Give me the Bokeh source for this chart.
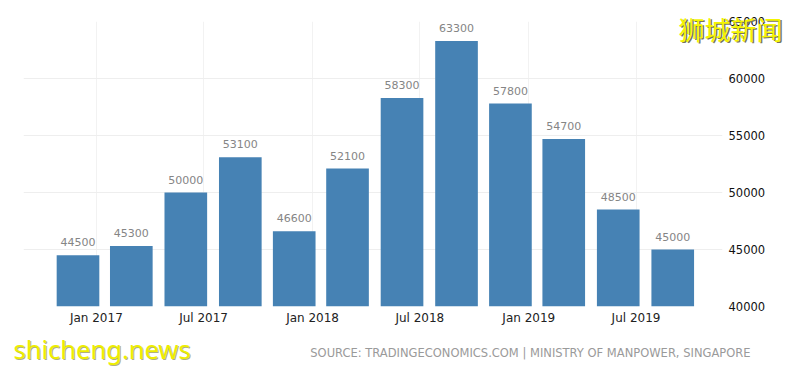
from datetime import datetime
from bokeh.plotting import figure
from bokeh.models import ColumnDataSource, Range1d, FixedTicker, DatetimeTickFormatter, Title
from bokeh.embed import file_html
from bokeh.resources import INLINE

# ---- data ----
periods = ["2016-12-01", "2017-03-01", "2017-06-01", "2017-09-01",
           "2017-12-01", "2018-03-01", "2018-06-01", "2018-09-01",
           "2018-12-01", "2019-03-01", "2019-06-01", "2019-09-01"]
vacancies = [44500, 45300, 50000, 53100, 46600, 52100, 58300, 63300,
             57800, 54700, 48500, 45000]
x_tick_dates = ["2017-01-01", "2017-07-01", "2018-01-01",
                "2018-07-01", "2019-01-01", "2019-07-01"]
y_ticks = [40000, 45000, 50000, 55000, 60000, 65000]
source_text = "SOURCE: TRADINGECONOMICS.COM | MINISTRY OF MANPOWER, SINGAPORE"
watermark_cn = "狮城新闻"
watermark_en = "shicheng.news"

dates = [datetime.strptime(d, "%Y-%m-%d") for d in periods]
src = ColumnDataSource(dict(
    x=dates,
    top=vacancies,
    label=[str(v) for v in vacancies],
))

def ms(d):
    return (datetime.strptime(d, "%Y-%m-%d") - datetime(1970, 1, 1)).total_seconds() * 1000

W, H = 798, 370
p = figure(width=W, height=H, x_axis_type="datetime", y_axis_location="right",
           output_backend="svg", toolbar_location=None,
           x_range=Range1d(datetime(2016, 8, 31), datetime(2019, 11, 24)),
           y_range=Range1d(40000, 65000),
           min_border_left=23, min_border_right=W - 722, min_border_top=21,
           min_border_bottom=H - 306)
p.outline_line_color = None
p.background_fill_color = "white"
p.border_fill_color = "white"

DAY = 86400000
p.vbar(x="x", top="top", bottom=40000, width=72 * DAY, source=src,
       fill_color="#4682b4", line_color=None)
p.text(x="x", y="top", text="label", source=src, text_align="center",
       text_baseline="alphabetic", y_offset=-13, text_color="#858585",
       text_font_size="11px", text_font={"value": "DejaVu Sans"})

# axes
xa = p.xaxis[0]
xa.ticker = FixedTicker(ticks=[ms(d) for d in x_tick_dates])
fmt = "%b %Y"
xa.formatter = DatetimeTickFormatter(microseconds=fmt, milliseconds=fmt, seconds=fmt,
                                     minsec=fmt, minutes=fmt, hourmin=fmt, hours=fmt,
                                     days=fmt, months=fmt, years=fmt)
ya = p.yaxis[0]
ya.ticker = FixedTicker(ticks=y_ticks)
for ax in (xa, ya):
    ax.axis_line_color = None
    ax.major_tick_line_color = None
    ax.minor_tick_line_color = None
    ax.major_tick_out = 0
    ax.major_tick_in = 0
    ax.minor_tick_out = 0
    ax.minor_tick_in = 0
    ax.major_label_text_font = "DejaVu Sans"
xa.major_label_text_font_size = "12px"
xa.major_label_text_color = "#222222"
xa.major_label_standoff = 4
ya.major_label_text_font_size = "11.5px"
ya.major_label_text_color = "#111111"
ya.major_label_standoff = 6

p.xgrid.grid_line_color = "#f2f2f2"
p.ygrid.grid_line_color = "#eeeeee"

def overlay_title(text, where, align, offset, standoff, font, size, color):
    p.add_layout(Title(text=text, align=align, vertical_align="bottom",
                       offset=offset, standoff=standoff, text_font=font,
                       text_font_size=size, text_font_style="normal",
                       text_color=color), where)

# watermark (top right) with a dark drop shadow, over the corner of the plot
overlay_title(watermark_cn, "above", "right", -61.5, -53, "Noto Sans CJK SC", "26px", "#77775a")
overlay_title(watermark_cn, "above", "right", -60, -50, "Noto Sans CJK SC", "26px", "#f4f400")

# bottom texts
overlay_title(watermark_en, "below", "left", -9, -79, "Noto Sans", "25.5px", "#b0b080")
overlay_title(watermark_en, "below", "left", -10, -77, "Noto Sans", "25.5px", "#eeee00")
overlay_title(source_text, "below", "right", -28, -65, "DejaVu Sans", "11.5px", "#9a9a9a")

open("out.html", "w").write(file_html(p, INLINE))
